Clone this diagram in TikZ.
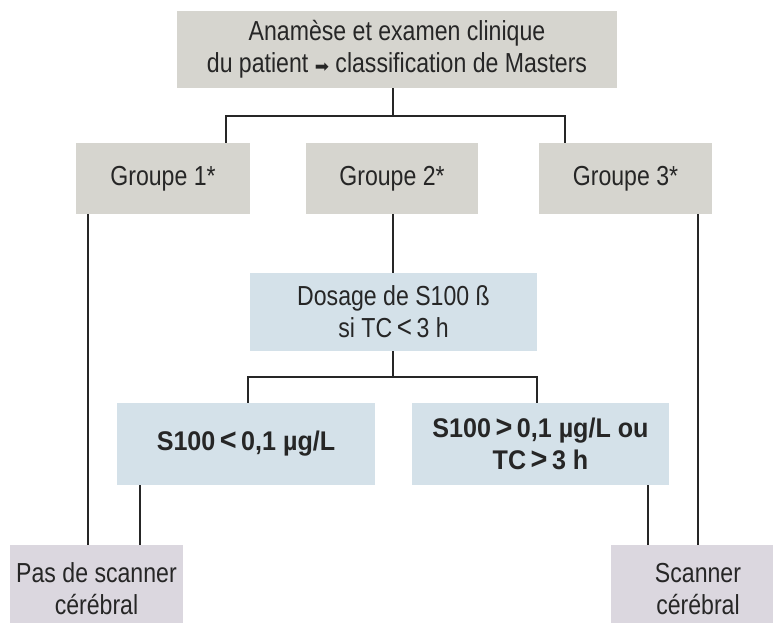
\documentclass[tikz,border=0pt]{standalone}
\usepackage{fontspec}
\setmainfont{Liberation Sans}[FakeStretch=0.84]
\newfontfamily\widebold{Liberation Sans}[FakeStretch=0.93]
\newfontfamily\symfont{DejaVu Sans}
% larger comparison signs, as set in the chart
\newcommand{\lt}{\,{\fontsize{31}{31}\selectfont<}\,}
\newcommand{\gt}{\,{\fontsize{31}{31}\selectfont>}\,}
\begin{document}
\begin{tikzpicture}[x=1pt,y=-1pt,
  box/.style={rectangle,inner sep=0pt,align=center,font=\fontsize{27.5}{32}\selectfont,text=black!85},
  graybox/.style={box,fill=boxgray},
  bluebox/.style={box,fill=boxblue},
  boldbox/.style={bluebox,font=\widebold\bfseries\fontsize{27}{32}\selectfont},
  endbox/.style={box,fill=boxlilac},
  link/.style={line width=1.6pt,black!85}]
\definecolor{boxgray}{HTML}{D6D5CF}
\definecolor{boxblue}{HTML}{D4E1E9}
\definecolor{boxlilac}{HTML}{DBD7DF}
\useasboundingbox (0,0) rectangle (773,622);
\clip (0,0) rectangle (773,622);

% first level
\node[graybox,minimum width=440pt,minimum height=77pt] (top) at (397,49.5)
  {Anamèse et examen clinique\\du patient {\symfont\fontsize{17}{17}\selectfont ➡} classification de Masters};

% Masters groups
\node[graybox,minimum width=174pt,minimum height=71pt] (g1) at (163,178.5) {Groupe 1*};
\node[graybox,minimum width=172pt,minimum height=71pt] (g2) at (392,178.5) {Groupe 2*};
\node[graybox,minimum width=173pt,minimum height=71pt] (g3) at (625.5,178.5) {Groupe 3*};

% S100 assay
\node[bluebox,minimum width=287pt,minimum height=78pt] (dos) at (393.5,312)
  {Dosage de S100 ß\\si TC\lt3 h};
\node[boldbox,minimum width=258pt,minimum height=82pt] (low) at (246,444)
  {S100\lt0,1 µg/L};
\node[boldbox,minimum width=257pt,minimum height=82pt] (high) at (540.5,444)
  {S100\gt0,1 µg/L ou\\TC\gt3 h};

% outcomes
\node[endbox,minimum width=173pt,minimum height=90pt,anchor=north west] (no) at (10,545) {};
\node[box] (notext) at (96.5,589) {Pas de scanner\\cérébral};
\node[endbox,minimum width=170pt,minimum height=90pt,anchor=north west] (scan) at (611,545) {};
\node[box] (scantext) at (698,589) {Scanner\\cérébral};

% connectors
\coordinate (bus1) at (393,116);
\coordinate (bus2) at (393,377);
\draw[link] (top.south -| bus1) -- (bus1);
\draw[link] ([xshift=63pt]g1.north) |- (bus1) -| ([xshift=-60.5pt]g3.north);
\draw[link] (g2.south -| bus1) -- (dos.north -| bus1);
\draw[link] (dos.south -| bus2) -- (bus2);
\draw[link] ([xshift=2pt]low.north) |- (bus2) -| ([xshift=-3.5pt]high.north);
\draw[link] ([xshift=-75pt]g1.south) -- ([xshift=-75pt]g1.south |- no.north);
\draw[link] ([xshift=-106pt]low.south) -- ([xshift=-106pt]low.south |- no.north);
\draw[link] ([xshift=107.5pt]high.south) -- ([xshift=107.5pt]high.south |- scan.north);
\draw[link] ([xshift=72.5pt]g3.south) -- ([xshift=72.5pt]g3.south |- scan.north);
\end{tikzpicture}
\end{document}
